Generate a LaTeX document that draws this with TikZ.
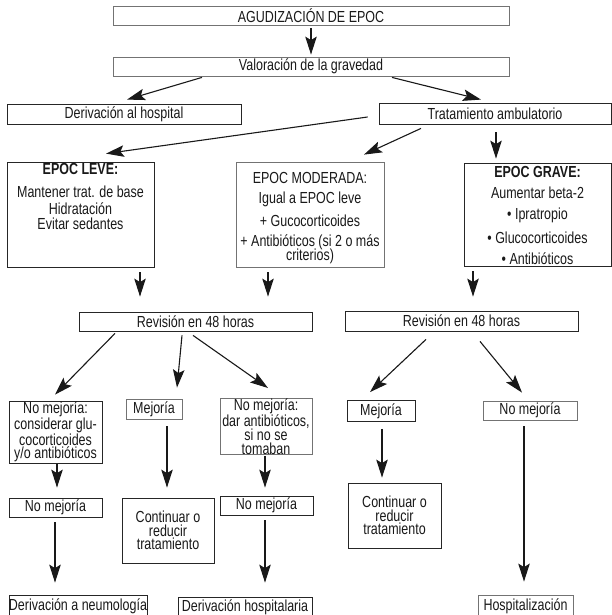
\documentclass[tikz,border=0pt]{standalone}
\usepackage{fontspec}
\setmainfont{Liberation Sans}[FakeStretch=0.78]
\usetikzlibrary{arrows.meta,calc}
\begin{document}
\begin{tikzpicture}[x=1pt,y=-1pt,
  every node/.style={font=\fontsize{16}{13.5}\selectfont, text=black!90, inner sep=0pt},
  box/.style={draw=black!85, line width=0.8pt},
  gbox/.style={draw=black!55, line width=0.8pt},
  arr/.style={draw=black!90, line width=1.1pt, -{Stealth[length=18pt,width=11.5pt,inset=3.5pt]}},
  txt/.style={align=center}]
\clip (0,0) rectangle (612,615);
\fill[white] (0,0) rectangle (612,615);

% top
\node[gbox, minimum width=396pt, minimum height=19pt] (agud) at (311,15.5) {AGUDIZACIÓN DE EPOC};
\node[gbox, minimum width=396pt, minimum height=19pt] (val) at (311,66.5) {Valoración de la gravedad};
\node[box, minimum width=234pt, minimum height=20pt] (der) at (124,114) {Derivación al hospital};
\node[box, minimum width=232pt, minimum height=21pt] (tra) at (495,113.5) {Tratamiento ambulatorio};

% severity boxes
\node[box, minimum width=147pt, minimum height=105pt] (leve) at (80.5,214.5) {};
\node[txt, anchor=north] (leveT) at ($(leve.north)+(0,2)$) {\textbf{EPOC LEVE:}\\[9pt]Mantener trat. de base\\[4pt]Hidratación\\[1pt]Evitar sedantes};
\node[gbox, minimum width=148pt, minimum height=105pt] (mod) at (310,214.5) {};
\node[txt, anchor=north] (modT) at ($(mod.north)+(0,11)$) {EPOC MODERADA:\\[6.5pt]Igual a EPOC leve\\[6.5pt]+ Gucocorticoides\\[6.5pt]+ Antibióticos (si 2 o más\\[-2pt]criterios)};
\node[box, minimum width=147pt, minimum height=103pt] (grave) at (537.5,214.5) {};
\node[txt, anchor=north] (graveT) at ($(grave.north)+(0,4)$) {\textbf{EPOC GRAVE:}\\[7.5pt]Aumentar beta-2\\[7.5pt]• Ipratropio\\[7.5pt]• Glucocorticoides\\[7.5pt]• Antibióticos};

% revisions
\node[box, minimum width=233pt, minimum height=19pt] (revL) at (195.5,321.5) {Revisión en 48 horas};
\node[box, minimum width=233pt, minimum height=20pt] (revR) at (461.5,321) {Revisión en 48 horas};

% outcomes
\node[box, minimum width=93pt, minimum height=62pt, txt] (nma) at (55.5,432) {No mejoría:\\considerar glu-\\cocorticoides\\y/o antibióticos};
\node[gbox, minimum width=56pt, minimum height=20pt] (mejL) at (154,409) {Mejoría};
\node[gbox, minimum width=92pt, minimum height=55pt, txt] (dar) at (266,426.5) {No mejoría:\\dar antibióticos,\\si no se\\tomaban};
\node[box, minimum width=68pt, minimum height=21pt] (mejR) at (381,411) {Mejoría};
\node[gbox, minimum width=94pt, minimum height=19pt] (nmR) at (530,410.5) {No mejoría};

\node[box, minimum width=93pt, minimum height=19pt] (nm1) at (55.5,507.5) {No mejoría};
\node[box, minimum width=92pt, minimum height=65pt, txt] (cont1) at (168,530.5) {Continuar o\\reducir\\tratamiento};
\node[box, minimum width=93pt, minimum height=19pt] (nm2) at (266.5,505.5) {No mejoría};
\node[box, minimum width=93pt, minimum height=65pt, txt] (cont2) at (394.5,515.5) {Continuar o\\reducir\\tratamiento};

\node[box, minimum width=138pt, minimum height=22pt] (derN) at (78,606) {Derivación a neumología};
\node[box, minimum width=134pt, minimum height=20pt] (derH) at (245,607) {Derivación hospitalaria};
\node[gbox, minimum width=95pt, minimum height=22pt] (hosp) at (525.5,606) {Hospitalización};

% connectors
\draw[arr] ($(agud.south)+(0,3)$) -- ($(val.north)+(0,-2)$);
\draw[arr] ($(val.south)+(-109,1)$) -- ($(der.north)+(3,-4)$);
\draw[arr] ($(val.south)+(81,1)$) -- ($(tra.north)+(-14,-3)$);
\draw[arr] ($(tra.west)+(-11,3.5)$) -- ($(leve.north)+(25.5,-8)$);
\draw[arr] ($(tra.south)+(-74,4)$) -- ($(mod.north)+(54,-7)$);
\draw[arr] ($(tra.south)+(1,8)$) -- ($(grave.north)+(-41.5,-4)$);
\draw[arr] ($(leve.south)+(59.5,5)$) -- ($(revL.north)+(-55.5,-15)$);
\draw[arr] ($(mod.south)+(-42,5)$) -- ($(revL.north)+(72.5,-15)$);
\draw[arr] ($(grave.south)+(-64.5,5)$) -- ($(revR.north)+(11.5,-14)$);
\draw[arr] ($(revL.south)+(-80.5,2)$) -- ($(nma.north)+(-0.5,-6)$);
\draw[arr] ($(revL.south)+(-13.5,4)$) -- ($(mejL.north)+(23,-11)$);
\draw[arr] ($(revL.south)+(-2.5,4)$) -- ($(dar.north)+(2,-10)$);
\draw[arr] ($(revR.south)+(-35.5,8)$) -- ($(mejR.north)+(-11,-8)$);
\draw[arr] ($(revR.south)+(18.5,10)$) -- ($(nmR.north)+(-8,-8)$);
\draw[arr] ($(nma.south)+(1.5,1)$) -- ($(nm1.north)+(1.5,-10)$);
\draw[arr] ($(mejL.south)+(13,7)$) -- ($(cont1.north)+(-1,-10)$);
\draw[arr] ($(dar.south)+(-1,1)$) -- ($(nm2.north)+(-1.5,-8)$);
\draw[arr] ($(nm1.south)+(-0.5,5)$) -- ($(derN.north)+(-23,-12)$);
\draw[arr] ($(nm2.south)+(-1.5,5)$) -- ($(derH.north)+(20,-14)$);
\draw[arr] ($(mejR.south)+(1,7)$) -- ($(cont2.north)+(-12.5,-5)$);
\draw[arr] ($(nmR.south)+(-6,6)$) -- ($(hosp.north)+(-1.5,-13)$);
\end{tikzpicture}
\end{document}
